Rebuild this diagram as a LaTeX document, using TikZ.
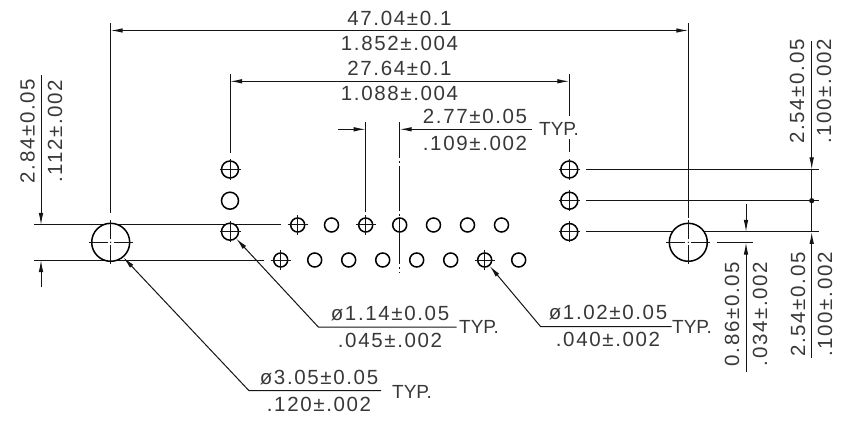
\documentclass[tikz,border=0pt]{standalone}
\usepackage{fontspec}
\setmainfont{Liberation Sans}
\newfontfamily\dimfont[LetterSpace=8]{Liberation Sans}
\usetikzlibrary{arrows.meta}
\definecolor{ink}{gray}{0.08}
\definecolor{txt}{gray}{0.22}
\tikzset{
  thin line/.style={draw=ink,line width=1pt},
  dimline/.style={thin line,{Latex[length=12pt,width=4.5pt]}-{Latex[length=12pt,width=4.5pt]}},
  leader/.style={thin line,{Latex[length=12pt,width=4.5pt]}-},
  endarrow/.style={thin line,-{Latex[length=12pt,width=4.5pt]}},
  hole/.style={circle,draw=black,line width=1.5pt,inner sep=0pt,minimum size=#1,fill=white},
  hole/.default=14pt,
  dimtext/.style={inner sep=0pt,text=txt,font=\dimfont\fontsize{20.5}{20.5}\selectfont},
  typtext/.style={inner sep=0pt,text=txt,font=\fontsize{19}{19}\selectfont,anchor=west},
  centre line/.style={draw=ink,line width=1pt,dash pattern=on 45pt off 3pt on 2pt off 3pt,dash phase=9pt}
}
\begin{document}
\begin{tikzpicture}[x=1pt,y=-1pt]
\useasboundingbox (0,0) rectangle (854,422);

% long lines underneath the holes
\coordinate (lu0) at (34,225);   \coordinate (lu1) at (281,225);
\coordinate (ll0) at (34,260);   \coordinate (ll1) at (264,260);
\draw[thin line] (lu0) -- (lu1);
\draw[thin line] (ll0) -- (ll1);
\foreach \n/\y in {ra/169.5,rb/200.7,rc/232}{
  \coordinate (\n0) at (586,\y);
  \coordinate (\n1) at (819,\y);
  \draw[thin line] (\n0) -- (\n1);
}
\coordinate (x0) at (709,232); \coordinate (x1) at (753,232);
\draw[thin line] (x0) -- (x1);
\coordinate (x2) at (716.5,242.5); \coordinate (x3) at (753,242.5);
\draw[thin line] (x2) -- (x3);

% big holes
\node[hole=38pt] (BL) at (110.7,242.3) {};
\node[hole=38pt] (BR) at (688.3,242.3) {};
\foreach \b in {BL,BR}{
  \draw[thin line] ([xshift=-22pt]\b.center) -- ([xshift=-3pt]\b.center);
  \draw[thin line] ([xshift=3pt]\b.center) -- ([xshift=22pt]\b.center);
  \draw[thin line] ([yshift=-22pt]\b.center) -- ([yshift=-3pt]\b.center);
  \draw[thin line] ([yshift=3pt]\b.center) -- ([yshift=22pt]\b.center);
  \fill[black] (\b.center) circle (0.7pt);
}

% side columns
\node[hole=17pt] (L1) at (230,169.5) {};
\node[hole=17pt] (L2) at (230,200.7) {};
\node[hole=17pt] (L3) at (230,231.7) {};
\node[hole=17pt] (R1) at (569.3,169.5) {};
\node[hole=17pt] (R2) at (569.3,200.7) {};
\node[hole=17pt] (R3) at (569.3,232) {};

% rows
\foreach \n/\x in {a1/297.7,a2/331.5,a3/365.7,a4/399.7,a5/433.5,a6/467.5,a7/501.5}{
  \node[hole] (\n) at (\x,225) {};
}
\foreach \n/\x in {b1/280.7,b2/314.7,b3/348.7,b4/382.7,b5/416.7,b6/450.7,b7/484.7,b8/518.7}{
  \node[hole] (\n) at (\x,260) {};
}
% crosses
\foreach \h/\s in {L1/10.5,L3/10.5,R1/10.5,R2/10.5,R3/10.5,a1/10,a3/10,b1/10,b7/10}{
  \draw[thin line] ([xshift=-\s pt]\h.center) -- ([xshift=\s pt]\h.center);
  \draw[thin line] ([yshift=-\s pt]\h.center) -- ([yshift=\s pt]\h.center);
}

% 47.04 dimension
\coordinate (e47a) at (110.7,23);   \coordinate (e47b) at (110.7,213);
\coordinate (e47c) at (688.3,23);   \coordinate (e47d) at (688.3,218);
\coordinate (d47a) at (110.7,30.5); \coordinate (d47b) at (688.3,30.5);
\draw[thin line] (e47a) -- (e47b);
\draw[thin line] (e47c) -- (e47d);
\draw[dimline] (d47a) -- (d47b);
\node[dimtext] (t47a) at (399.5,18) {47.04±0.1};
\node[dimtext] (t47b) at (399.5,43) {1.852±.004};

% 27.64 dimension
\coordinate (e27a) at (230,74);     \coordinate (e27b) at (230,153);
\coordinate (e27c) at (569.3,74);   \coordinate (e27d) at (569.3,116);
\coordinate (e27e) at (569.3,139);  \coordinate (e27f) at (569.3,152);
\coordinate (d27a) at (230,81.3);   \coordinate (d27b) at (569.3,81.3);
\draw[thin line] (e27a) -- (e27b);
\draw[thin line] (e27c) -- (e27d);
\draw[thin line] (e27e) -- (e27f);
\draw[dimline] (d27a) -- (d27b);
\node[dimtext] (t27a) at (399.5,68.5) {27.64±0.1};
\node[dimtext] (t27b) at (399.5,93.5) {1.088±.004};

% 2.77 dimension
\coordinate (e2a) at (365.7,122);  \coordinate (e2b) at (365.7,212);
\coordinate (cla) at (399.7,122);  \coordinate (clb) at (399.7,273);
\coordinate (d2s) at (338,129.3);  \coordinate (d2a) at (365.7,129.3);
\coordinate (d2b) at (399.7,129.3);\coordinate (d2e) at (532,129.3);
\draw[thin line] (e2a) -- (e2b);
\draw[centre line] (cla) -- (clb);
\draw[endarrow] (d2s) -- (d2a);
\draw[endarrow] (d2e) -- (d2b);
\node[dimtext] (t2a) at (475,116) {2.77±0.05};
\node[dimtext] (t2b) at (475,143.5) {.109±.002};
\node[typtext] (t2c) at (539,129) {TYP.};

% 2.84 dimension
\coordinate (v1a) at (41,75);   \coordinate (v1b) at (41,225);
\coordinate (v1c) at (41,287);  \coordinate (v1d) at (41,260);
\draw[endarrow] (v1a) -- (v1b);
\draw[endarrow] (v1c) -- (v1d);
\node[dimtext,rotate=90] (t284a) at (27.5,131) {2.84±0.05};
\node[dimtext,rotate=90] (t284b) at (55,131) {.112±.002};

% right 2.54 dimensions
\coordinate (v2a) at (811.7,41);  \coordinate (v2b) at (811.7,169.5);
\coordinate (v2c) at (811.7,358); \coordinate (v2d) at (811.7,232);
\coordinate (v2e) at (811.7,200.7);
\draw[endarrow] (v2a) -- (v2b);
\draw[endarrow] (v2c) -- (v2d);
\draw[thin line] (v2b) -- (v2d);
\fill[ink] (v2e) circle (2.6pt);
\node[dimtext,rotate=90] (t254a) at (797,91.5) {2.54±0.05};
\node[dimtext,rotate=90] (t254b) at (824,91.5) {.100±.002};
\node[dimtext,rotate=90] (t254c) at (798,304.5) {2.54±0.05};
\node[dimtext,rotate=90] (t254d) at (825,304.5) {.100±.002};

% 0.86 dimension
\coordinate (v3a) at (746,204);  \coordinate (v3b) at (746,232);
\coordinate (v3c) at (746,372);  \coordinate (v3d) at (746,242.5);
\draw[endarrow] (v3a) -- (v3b);
\draw[endarrow] (v3c) -- (v3d);
\node[dimtext,rotate=90] (t086a) at (732,314) {0.86±0.05};
\node[dimtext,rotate=90] (t086b) at (760,314) {.034±.002};

% leaders
\coordinate (s1a) at (318.3,327);  \coordinate (s1b) at (456.7,327);
\draw[leader] (L3.-48) -- (s1a) -- (s1b);
\node[dimtext] (t114a) at (390,314) {ø1.14±0.05};
\node[dimtext] (t114b) at (390,340.7) {.045±.002};
\node[typtext] (t114c) at (459,327) {TYP.};

\coordinate (s2a) at (540.7,326.7); \coordinate (s2b) at (671.7,326.7);
\draw[leader] (b7.-50) -- (s2a) -- (s2b);
\node[dimtext] (t102a) at (608,312.7) {ø1.02±0.05};
\node[dimtext] (t102b) at (608,339) {.040±.002};
\node[typtext] (t102c) at (672,327) {TYP.};

\coordinate (s3a) at (249,390.7); \coordinate (s3b) at (381,390.7);
\draw[leader] (BL.-50) -- (s3a) -- (s3b);
\node[dimtext] (t305a) at (319,377.7) {ø3.05±0.05};
\node[dimtext] (t305b) at (319,404) {.120±.002};
\node[typtext] (t305c) at (392,392) {TYP.};
\end{tikzpicture}
\end{document}
